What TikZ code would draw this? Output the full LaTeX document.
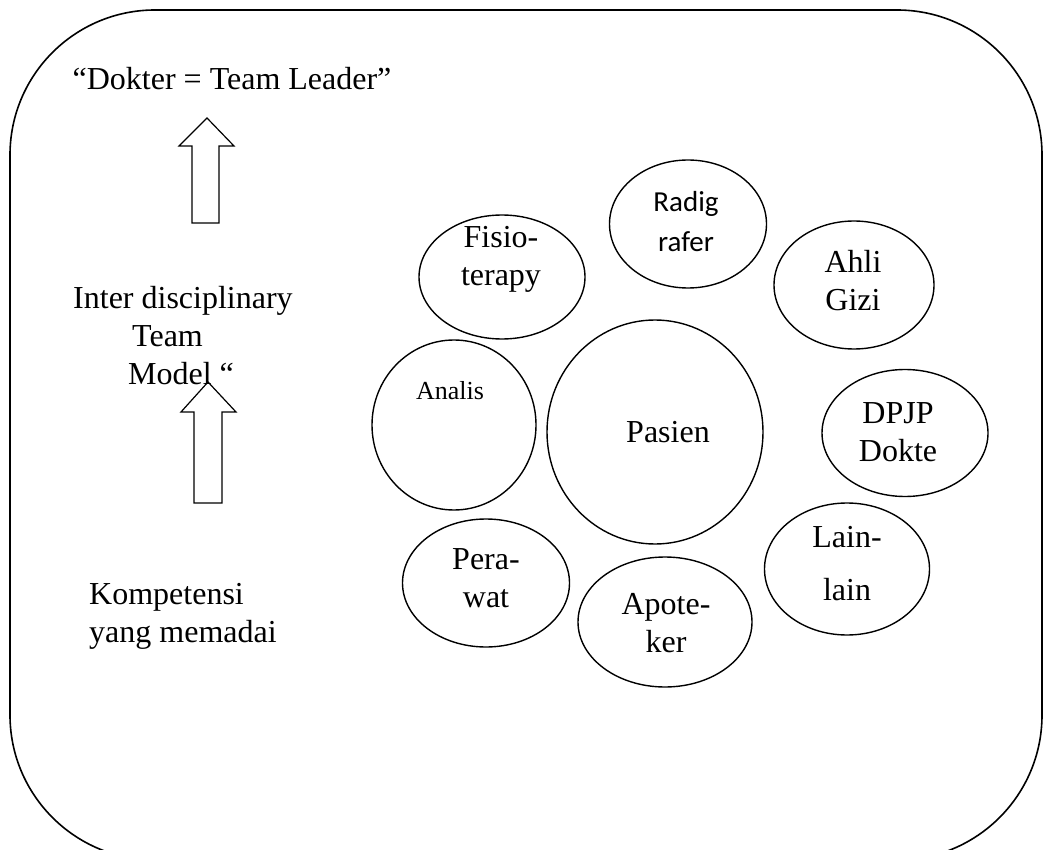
\documentclass[tikz,border=0pt]{standalone}
\usepackage{fontspec}
\setmainfont{Liberation Serif}
\newfontfamily\calibri{Carlito}
\usetikzlibrary{shapes.geometric}
\tikzset{member/.style={ellipse, 
draw=black, 
line width=1.4pt, 
inner sep=0pt},
word/.style={inner sep=0pt, 
align=center, 
font=\fontsize{32}{38}\selectfont},
blockarrow/.style={draw=black, 
line width=1.2pt, 
line join=miter}}

\begin{document}
\begin{tikzpicture}[x=1pt, y=-1pt]
\useasboundingbox (0,0) rectangle (1044,850);
\draw [line width=1.6pt, rounded corners=145pt] (10,10) rectangle (1042,860);

% left column
\node (leader) [word, anchor=base] at (232,90) {“Dokter = Team Leader”};
\node (model) [word, align=left, anchor=base west] at (73,384) {Inter disciplinary\\\hspace*{59pt}Team\\\hspace*{55pt}Model “};
\node (kompetensi) [word, align=left, anchor=base west] at (89,642) {Kompetensi\\yang memadai};
\draw [blockarrow] (207,118) -- (234,146) -- (219,146) -- (219,223) -- (192,223) -- (192,146) -- (179,146) -- cycle;
\draw [blockarrow] (208,382) -- (236,412) -- (222,412) -- (222,503) -- (194,503) -- (194,412) -- (181,412) -- cycle;

% circles round the patient
\node (pasien) [member, minimum width=216pt, minimum height=224pt] at (655,432) {};
\node (fisio) [member, minimum width=166pt, minimum height=124pt] at (502,277) {};
\node (radig) [member, minimum width=157pt, minimum height=128pt] at (688,224) {};
\node (ahli) [member, minimum width=160pt, minimum height=128pt] at (854,285) {};
\node (analis) [member, minimum width=164pt, minimum height=170pt] at (454,425) {};
\node (dpjp) [member, minimum width=166pt, minimum height=127pt] at (905,433) {};
\node (perawat) [member, minimum width=167pt, minimum height=128pt] at (486,583) {};
\node (apoteker) [member, minimum width=174pt, minimum height=130pt] at (665,622) {};
\node (lain) [member, minimum width=165pt, minimum height=132pt] at (847,569) {};

% their texts
\node (pasientxt) [word, anchor=base] at (668,442) {Pasien};
\node (fisiotxt) [word, anchor=base] at (501,286) {Fisio-\\terapy};
\node (radigtxt) [word, anchor=base, font=\calibri\fontsize{29}{40}\selectfont] at (686,252) {Radig\\rafer};
\node (ahlitxt) [word, anchor=base] at (853,311) {Ahli\\Gizi};
\node (analistxt) [word, anchor=base, font=\fontsize{26}{30}\selectfont] at (450,399) {Analis};
\node (dpjptxt) [word, anchor=base] at (898,461) {DPJP\\Dokte};
\node (perawattxt) [word, anchor=base] at (486,607) {Pera-\\wat};
\node (apotekertxt) [word, anchor=base] at (666,652) {Apote-\\ker};
\node (laintxt) [word, anchor=base] at (847,600) {Lain-\\[15pt]lain};
\end{tikzpicture}
\end{document}
